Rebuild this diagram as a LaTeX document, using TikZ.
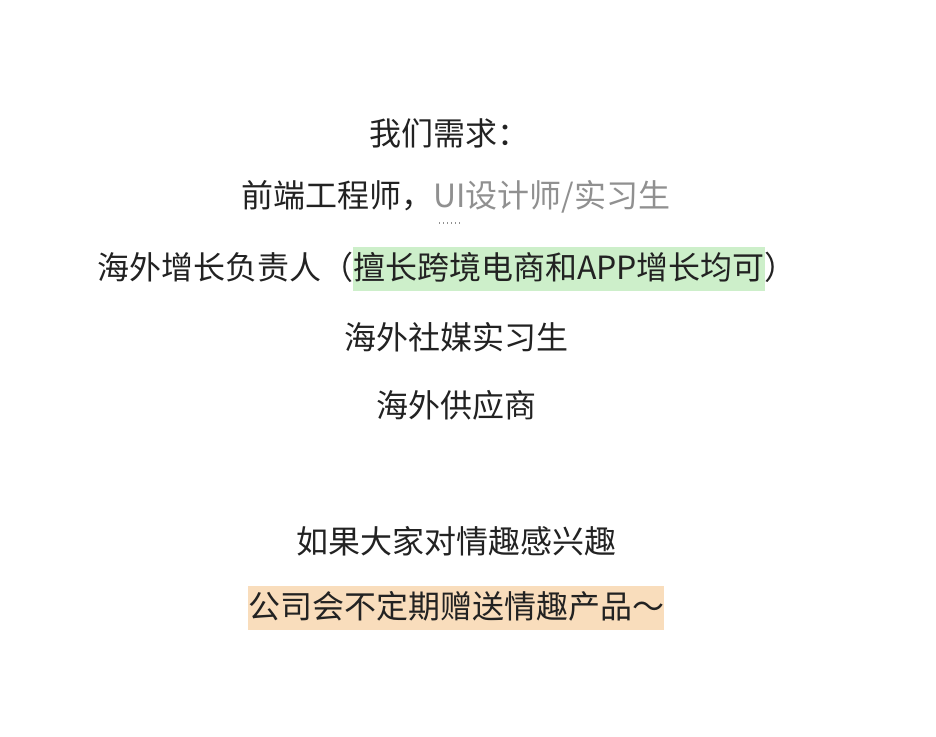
\documentclass[tikz,border=0pt]{standalone}
\usepackage{fontspec}
\newfontfamily\cjk{Noto Sans CJK SC}
\definecolor{txt}{HTML}{222222}
\definecolor{dotc}{HTML}{909090}
\definecolor{hlgreen}{HTML}{CDEFCA}
\definecolor{hlorange}{HTML}{F9DDBC}
\newcommand{\hl}[2]{{\setlength{\fboxsep}{0pt}\colorbox{#1}{\rule[-0.36em]{0pt}{1.4em}#2}}}
\newcommand{\dotsunder}[1]{{\setbox0\hbox{#1}\setbox2\hbox to\wd0{\color{dotc}\hskip1pt\leaders\hbox to 4pt{\hss\rule{1.3pt}{1.3pt}\hss}\hfill\hskip1pt}\rlap{\raisebox{-0.5em}{\box2}}\box0}}
\begin{document}
\begin{tikzpicture}[x=1pt,y=-1pt,
  line/.style={font=\cjk\fontsize{32}{36}\selectfont, text=txt, inner sep=0pt, anchor=center}]
\useasboundingbox[fill=white] (0,0) rectangle (936,736);
\node[line] (l1) at (449,133) {我们需求：};
\node[line] (l2) at (456,202) {前端工程师，\dotsunder{UI}设计师/实习生};
\node[line] (l3) at (447,269) {海外增长负责人（\hl{hlgreen}{擅长跨境电商和APP增长均可}）};
\node[line] (l4) at (456,337) {海外社媒实习生};
\node[line] (l5) at (456,405) {海外供应商};
\node[line] (l6) at (456,541) {如果大家对情趣感兴趣};
\node[line] (l7) at (456,608) {\hl{hlorange}{公司会不定期赠送情趣产品～}};
\end{tikzpicture}
\end{document}
